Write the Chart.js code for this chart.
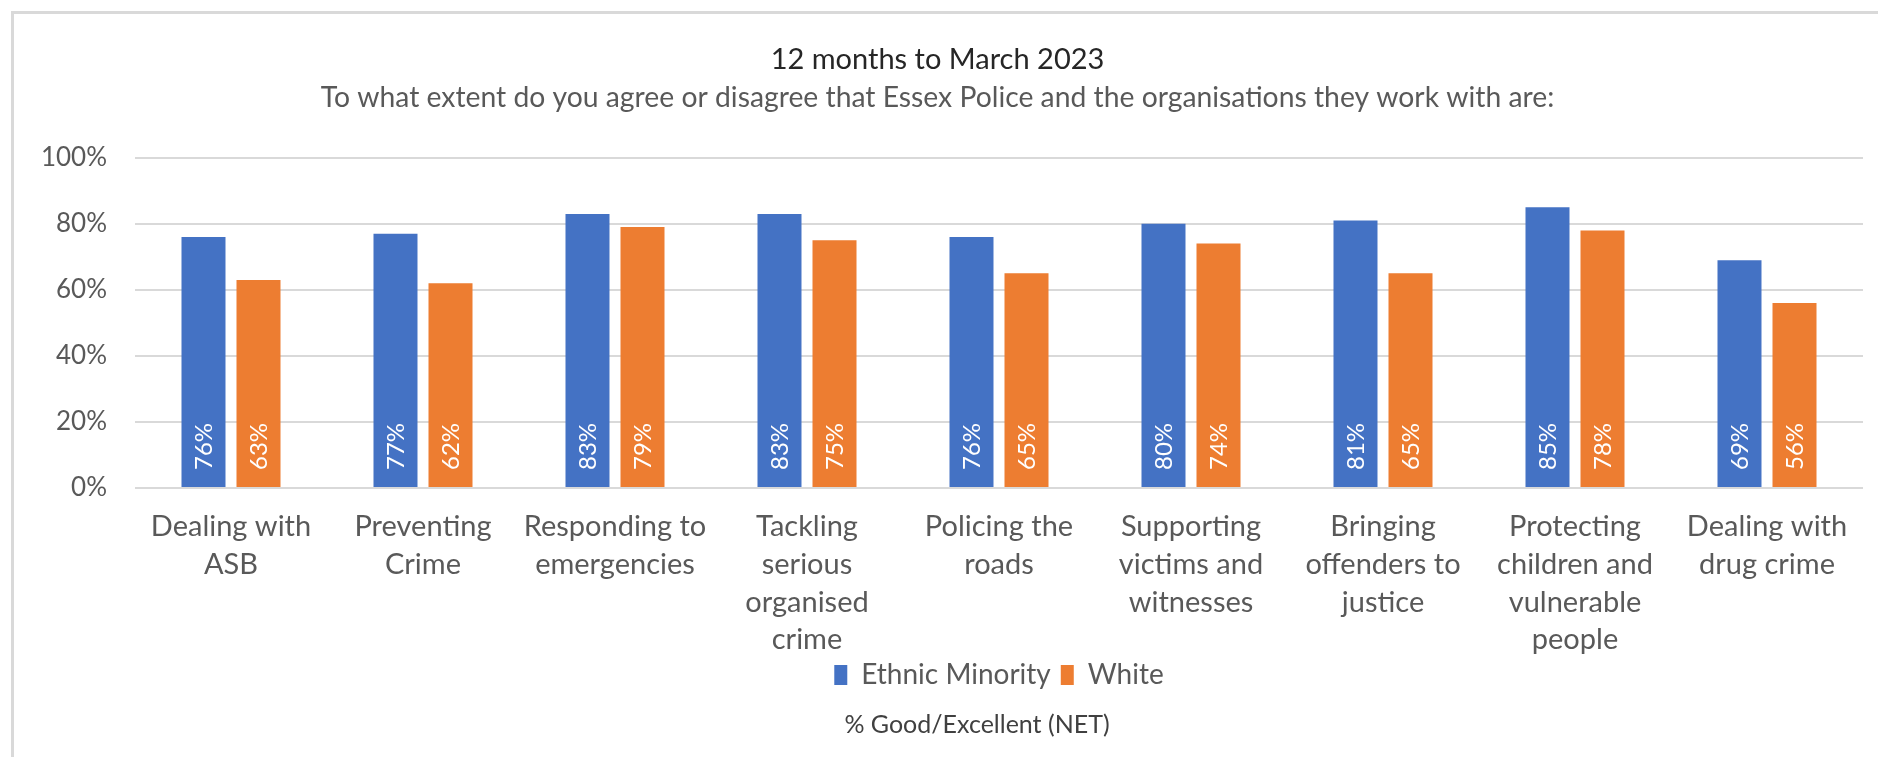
<!DOCTYPE html>
<html>
<head>
<meta charset="utf-8">
<script src="https://cdn.jsdelivr.net/npm/chart.js@4"></script>
<style>
  html, body { margin: 0; padding: 0; background: #fff; }
  #wrap { width: 1878px; height: 757px; }
</style>
</head>
<body>
<div id="wrap"><canvas id="grafico"></canvas></div>
<script>
const categorias = [
  ["Dealing with", "ASB"],
  ["Preventing", "Crime"],
  ["Responding to", "emergencies"],
  ["Tackling", "serious", "organised", "crime"],
  ["Policing the", "roads"],
  ["Supporting", "victims and", "witnesses"],
  ["Bringing", "offenders to", "justice"],
  ["Protecting", "children and", "vulnerable", "people"],
  ["Dealing with", "drug crime"],
];
const minoria = [76, 77, 83, 83, 76, 80, 81, 85, 69];
const brancos = [63, 62, 79, 75, 65, 74, 65, 78, 56];
const ticksY = [0, 20, 40, 60, 80, 100];

const fonte = "Lato, 'Open Sans', sans-serif";
const cinza = "#595959";

// moldura cinza e fundo branco
const moldura = {
  id: "moldura",
  beforeDraw(chart) {
    const c = chart.ctx;
    c.save();
    c.fillStyle = "#fff";
    c.fillRect(0, 0, chart.width, chart.height);
    c.strokeStyle = "#d9d9d9";
    c.lineWidth = 3;
    c.beginPath();
    c.moveTo(12.5, chart.height);
    c.lineTo(12.5, 12.5);
    c.lineTo(chart.width, 12.5);
    c.stroke();
    c.restore();
  },
};

// os rótulos de 4 linhas passam por baixo da legenda: não cortar
const eixoX = {
  id: "eixoX",
  afterLayout(chart) {
    chart.scales.x.bottom = chart.height;
  },
};

// valores na base de cada barra, na vertical
const rotulos = {
  id: "rotulos",
  afterDatasetsDraw(chart) {
    const c = chart.ctx;
    c.save();
    c.fillStyle = "#fff";
    c.font = "24px " + fonte;
    c.textAlign = "left";
    c.textBaseline = "middle";
    chart.data.datasets.forEach((ds, i) => {
      chart.getDatasetMeta(i).data.forEach((bar, j) => {
        c.save();
        c.translate(bar.x, bar.base - 17);
        c.rotate(-Math.PI / 2);
        c.fillText(ds.data[j] + "%", 0, 1);
        c.restore();
      });
    });
    c.restore();
  },
};

// legenda do eixo, abaixo da legenda
const rodape = {
  id: "rodape",
  afterDraw(chart) {
    const c = chart.ctx;
    const area = chart.chartArea;
    c.save();
    c.fillStyle = "#404040";
    c.font = "25px " + fonte;
    c.textAlign = "center";
    c.textBaseline = "middle";
    c.fillText("% Good/Excellent (NET)", (area.left + area.right) / 2 - 22, 725);
    c.restore();
  },
};

const ctx = document.getElementById("grafico").getContext("2d");

new Chart(ctx, {
  type: "bar",
  data: {
    labels: categorias,
    datasets: [
      {
        label: "Ethnic Minority",
        data: minoria,
        backgroundColor: "#4472C4",
        categoryPercentage: 0.573,
        barPercentage: 0.8,
      },
      {
        label: "White",
        data: brancos,
        backgroundColor: "#ED7D31",
        categoryPercentage: 0.573,
        barPercentage: 0.8,
      },
    ],
  },
  options: {
    responsive: true,
    maintainAspectRatio: false,
    animation: false,
    layout: { padding: { left: 12, right: 15, top: 12, bottom: 58 } },
    scales: {
      x: {
        grid: { display: false },
        border: { display: false },
        afterFit(scale) {
          scale.height = 163;
        },
        ticks: {
          color: cinza,
          font: { family: fonte, size: 29, lineHeight: 1.3 },
          padding: 12,
          maxRotation: 0,
          autoSkip: false,
        },
      },
      y: {
        min: 0,
        max: 100,
        afterBuildTicks(scale) {
          scale.ticks = ticksY.map((v) => ({ value: v }));
        },
        afterFit(scale) {
          scale.width = 123;
        },
        grid: { color: "#d9d9d9", lineWidth: 2, drawTicks: false },
        border: { display: false },
        ticks: {
          color: cinza,
          font: { family: fonte, size: 26 },
          padding: 28,
          callback: (v) => v + "%",
        },
      },
    },
    plugins: {
      title: {
        display: true,
        text: "12 months to March 2023",
        color: "#262626",
        font: { family: fonte, size: 29, weight: "normal", lineHeight: 1.2 },
        padding: { top: 30, bottom: 4 },
      },
      subtitle: {
        display: true,
        text: "To what extent do you agree or disagree that Essex Police and the organisations they work with are:",
        color: cinza,
        font: { family: fonte, size: 28.3, lineHeight: 1.2 },
        padding: { top: 0, bottom: 43 },
      },
      legend: {
        position: "bottom",
        fullSize: false,
        labels: {
          color: cinza,
          font: { family: fonte, size: 28 },
          boxWidth: 13,
          boxHeight: 20,
          padding: 10,
        },
      },
      tooltip: { enabled: false },
    },
  },
  plugins: [moldura, eixoX, rotulos, rodape],
});
</script>
</body>
</html>
